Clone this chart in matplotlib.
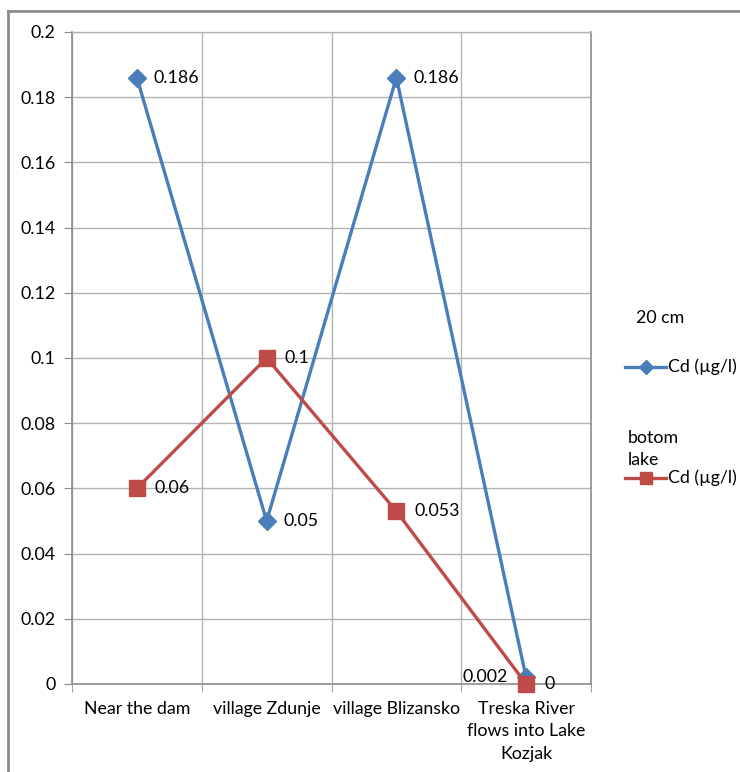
import matplotlib
matplotlib.use("Agg")
import matplotlib.pyplot as plt
from matplotlib.lines import Line2D
from matplotlib.ticker import FixedLocator, FuncFormatter

plt.rcParams['font.family'] = ['Lato', 'DejaVu Sans']

categories = ["Near the dam", "village Zdunje", "village Blizansko",
              "Treska River\nflows into Lake\nKozjak"]
cd_20cm = [0.186, 0.05, 0.186, 0.002]
cd_bottom = [0.06, 0.1, 0.053, 0.0]
label_20cm = "20 cm"
label_bottom = "botom\nlake"
series_name = "Cd (\u00b5g/l)"
yticks = [0, 0.02, 0.04, 0.06, 0.08, 0.1, 0.12, 0.14, 0.16, 0.18, 0.2]

FS = 12.8
W, H = 740, 772
fig = plt.figure(figsize=(W / 100, H / 100), dpi=100)
fig.patch.set_facecolor('white')

def fx(px):
    return px / W

def fy(py):
    return 1 - py / H

# chart area border (left and top visible)
fig.add_artist(Line2D([fx(8), fx(8)], [fy(11), 0], transform=fig.transFigure,
                      color='#8c8c8c', lw=2))
fig.add_artist(Line2D([fx(8), 1], [fy(11), fy(11)], transform=fig.transFigure,
                      color='#8c8c8c', lw=2))

L, R, T, B = 72, 591, 32, 684
ax = fig.add_axes([fx(L), fy(B), fx(R - L), (B - T) / H])

blue = '#4a7ebb'
red = '#be4b48'
x = list(range(len(categories)))

ax.plot(x, cd_20cm, color=blue, lw=2.4, marker='D', ms=9, zorder=3, clip_on=False)
ax.plot(x, cd_bottom, color=red, lw=2.4, marker='s', ms=11.5, zorder=4, clip_on=False)

ax.set_xlim(-0.5, len(categories) - 0.5)
ax.set_ylim(0, 0.2)

grid_c = '#b3b3b3'
ax.yaxis.set_major_locator(FixedLocator(yticks))
ax.yaxis.set_major_formatter(FuncFormatter(lambda v, p: f"{v:g}"))
ax.grid(axis='y', color=grid_c, lw=1)
ax.set_xticks(x)
ax.set_xticklabels(categories, fontsize=FS, linespacing=1.5)
ax.set_xticks([i - 0.5 for i in range(len(categories) + 1)], minor=True)
ax.grid(axis='x', which='minor', color=grid_c, lw=1)
ax.tick_params(axis='x', which='major', length=0, pad=12)
ax.tick_params(axis='x', which='minor', length=6, color='#8c8c8c', direction='out')
ax.tick_params(axis='y', length=6, color='#8c8c8c', direction='out', labelsize=FS, pad=6)
ax.set_axisbelow(True)

for s in ['left', 'bottom', 'right']:
    ax.spines[s].set_color('#8c8c8c')
    ax.spines[s].set_linewidth(1.2)
ax.spines['top'].set_color(grid_c)
ax.spines['top'].set_linewidth(1)

# data labels
for i, v in enumerate(cd_20cm):
    if i == len(cd_20cm) - 1:
        ax.annotate(f"{v:g}", (i, v), xytext=(-13, 0), textcoords='offset points',
                    ha='right', va='center', fontsize=FS)
    else:
        ax.annotate(f"{v:g}", (i, v), xytext=(12, 0), textcoords='offset points',
                    ha='left', va='center', fontsize=FS)
for i, v in enumerate(cd_bottom):
    ax.annotate(f"{v:g}", (i, v), xytext=(13, 0), textcoords='offset points',
                ha='left', va='center', fontsize=FS, clip_on=False)

# legend
fig.text(fx(636), fy(318), label_20cm, fontsize=FS, ha='left', va='center')
fig.add_artist(Line2D([fx(625), fx(666)], [fy(367), fy(367)], transform=fig.transFigure,
                      color=blue, lw=2.4))
fig.add_artist(Line2D([fx(645.5)], [fy(367)], transform=fig.transFigure,
                      color=blue, marker='D', ms=7, lw=0))
fig.text(fx(668), fy(367), series_name, fontsize=FS, ha='left', va='center')
fig.text(fx(628), fy(449), label_bottom, fontsize=FS, ha='left', va='center',
         linespacing=1.5)
fig.add_artist(Line2D([fx(625), fx(666)], [fy(478), fy(478)], transform=fig.transFigure,
                      color=red, lw=2.4))
fig.add_artist(Line2D([fx(645.5)], [fy(478)], transform=fig.transFigure,
                      color=red, marker='s', ms=9, lw=0))
fig.text(fx(668), fy(478), series_name, fontsize=FS, ha='left', va='center')

fig.savefig('out.png', dpi=100, facecolor='white')
